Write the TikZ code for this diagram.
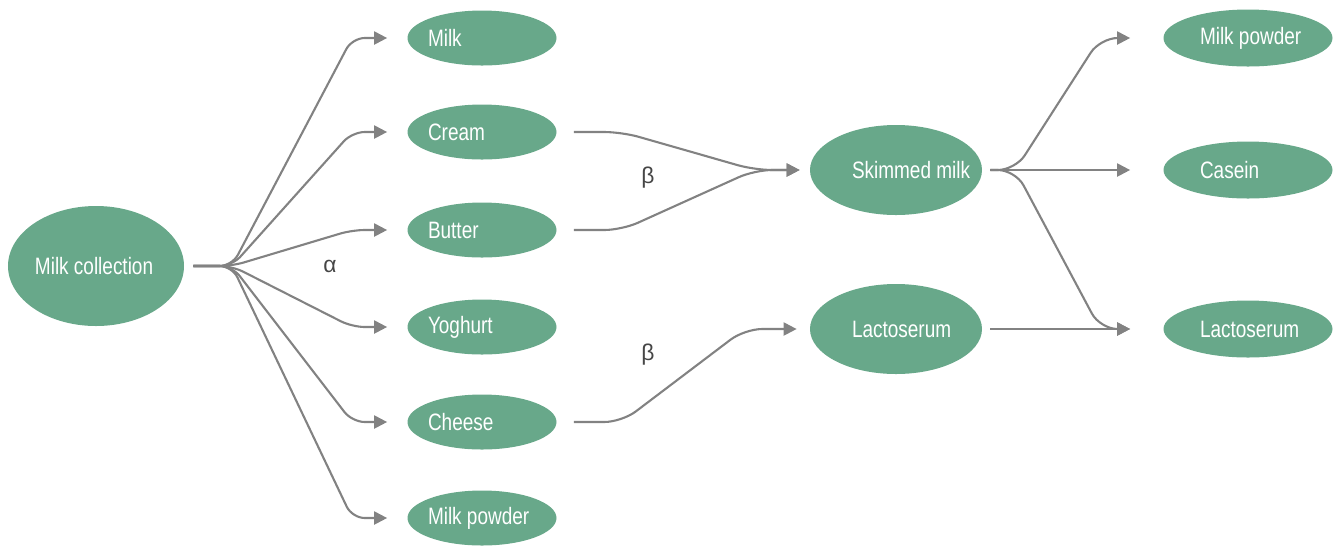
\documentclass[tikz,border=0pt]{standalone}
\usepackage{fontspec}
\setmainfont[FakeStretch=0.8]{Liberation Sans}
\newfontfamily\greekfont{Liberation Sans}
\usetikzlibrary{arrows.meta,shapes.geometric}
\definecolor{leaf}{RGB}{104,168,138}
\definecolor{wire}{RGB}{130,130,130}
\definecolor{labelgray}{RGB}{70,70,70}
\newcommand\lefttxt[2]{\makebox[0pt][l]{\hspace{-#1}#2}}
\begin{document}
\begin{tikzpicture}[x=0.2mm,y=-0.2mm,
  prod/.style={ellipse, fill=leaf, text=white, inner sep=0pt, font=\fontsize{13.5}{15}\selectfont},
  srcnode/.style={prod, minimum width=35.2mm, minimum height=24mm},
  colA/.style={prod, minimum width=29.8mm, minimum height=11mm},
  colB/.style={prod, minimum width=34.4mm, minimum height=18mm},
  colC/.style={prod, minimum width=33.8mm, minimum height=11.4mm},
  link/.style={draw=wire, line width=0.42mm, rounded corners=3.5mm},
  arr/.style={link, -{Triangle[length=2.6mm,width=2.6mm]}},
  greek/.style={text=labelgray, font=\greekfont\fontsize{13}{15}\selectfont, inner sep=0pt}]
\useasboundingbox (0,0) rectangle (1336,547);

% nodes
\node[srcnode] (mc) at (96,266) {\lefttxt{12.2mm}{Milk collection}};
\node[colA] (milk) at (482,38) {\lefttxt{10.8mm}{Milk}};
\node[colA] (cream) at (482,132) {\lefttxt{10.8mm}{Cream}};
\node[colA] (butter) at (482,230) {\lefttxt{10.8mm}{Butter}};
\node[colA] (yog) at (482,327) {\lefttxt{10.8mm}{Yoghurt}};
\node[colA] (cheese) at (482,422) {\lefttxt{10.8mm}{Cheese}};
\node[colA] (mpow) at (482,518) {\lefttxt{10.8mm}{Milk powder}};
\node[colB] (skim) at (896,170) {\lefttxt{8.8mm}{Skimmed milk}};
\node[colB] (lacm) at (896,329) {\lefttxt{8.8mm}{Lactoserum}};
\node[colC] (rmp) at (1248,38) {\lefttxt{9.6mm}{Milk powder}};
\node[colC] (cas) at (1248,170) {\lefttxt{9.6mm}{Casein}};
\node[colC] (rlac) at (1248,329) {\lefttxt{9.6mm}{Lactoserum}};

\node[greek] (alpha) at (330,266) {α};
\node[greek] (beta1) at (648,178) {β};
\node[greek] (beta2) at (648,355) {β};

\coordinate (b1) at (232,266);
\coordinate (b2) at ([xshift=6.6mm]skim.east);
\coordinate (m1) at ([xshift=-11mm]skim.west);

% fan from milk collection
\foreach \t in {milk,cream,butter,yog,cheese,mpow}{
  \draw[arr, rounded corners=2.5mm, shorten <=1.8mm, shorten >=4mm]
    (mc.east) -- (b1) -- ([xshift=-11mm]\t.west) -- (\t.west);
}

% to skimmed milk
\draw[arr, shorten <=3.4mm, shorten >=2mm]
  (cream.east) -- ([xshift=13mm]cream.east) -- (m1) -- (skim.west);
\draw[arr, shorten <=3.4mm, shorten >=2mm]
  (butter.east) -- ([xshift=13mm]butter.east) -- (m1) -- (skim.west);

% to lactoserum
\draw[arr, shorten <=3.4mm, shorten >=2.6mm]
  (cheese.east) -- ([xshift=13mm]cheese.east) -- ([xshift=-13mm]lacm.west) -- (lacm.west);

% from skimmed milk
\draw[arr, shorten <=1.6mm, shorten >=6.6mm]
  (skim.east) -- (b2) -- ([xshift=-12.6mm]rmp.west) -- (rmp.west);
\draw[arr, shorten <=1.6mm, shorten >=6.6mm]
  (skim.east) -- (cas.west);
\draw[arr, shorten <=1.6mm, shorten >=6.6mm]
  (skim.east) -- (b2) -- ([xshift=-12.6mm]rlac.west) -- (rlac.west);
\draw[arr, shorten <=1.6mm, shorten >=6.6mm]
  (lacm.east) -- (rlac.west);
\end{tikzpicture}
\end{document}
